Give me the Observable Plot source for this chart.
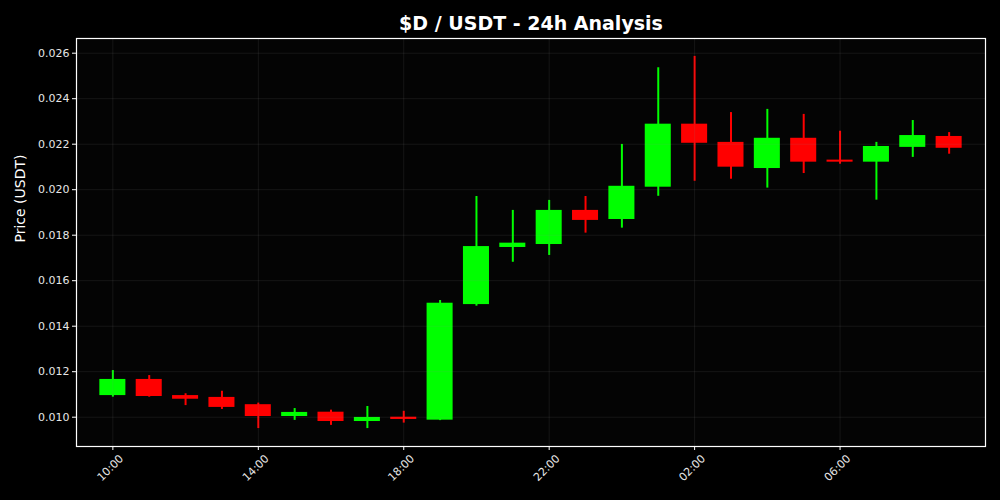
<!DOCTYPE html>
<html>
<head>
<meta charset="utf-8">
<script src="https://cdn.jsdelivr.net/npm/d3@7"></script>
<script src="https://cdn.jsdelivr.net/npm/@observablehq/plot@0.6"></script>
<style>
  html, body { margin: 0; padding: 0; background: #000; }
  #chart { width: 1000px; height: 500px; }
</style>
</head>
<body>
<div id="chart"></div>
<script>
const hours = ["10:00","11:00","12:00","13:00","14:00","15:00","16:00","17:00","18:00","19:00","20:00","21:00",
               "22:00","23:00","00:00","01:00","02:00","03:00","04:00","05:00","06:00","07:00","08:00","09:00"];
const openP  = [0.01095,0.01166,0.01095,0.01087,0.01055,0.01003,0.01022,0.00981,0.01000,0.00987,0.01495,0.01746,
                0.01759,0.01909,0.01869,0.02011,0.02288,0.02208,0.02093,0.02226,0.02130,0.02121,0.02186,0.02234];
const highP  = [0.01205,0.01183,0.01103,0.01114,0.01062,0.01038,0.01031,0.01047,0.01026,0.01513,0.01970,0.01909,
                0.01953,0.01970,0.02199,0.02536,0.02586,0.02339,0.02353,0.02331,0.02257,0.02208,0.02304,0.02251];
const lowP   = [0.01088,0.01088,0.01051,0.01034,0.00950,0.00986,0.00964,0.00950,0.00974,0.00985,0.01488,0.01681,
                0.01711,0.01809,0.01831,0.01971,0.02037,0.02046,0.02007,0.02071,0.02112,0.01954,0.02142,0.02156];
const closeP = [0.01166,0.01091,0.01079,0.01043,0.01003,0.01021,0.00981,0.00999,0.00990,0.01501,0.01750,0.01765,
                0.01909,0.01865,0.02015,0.02288,0.02204,0.02099,0.02226,0.02121,0.02121,0.02190,0.02238,0.02182];
const xTickLabels = ["10:00","14:00","18:00","22:00","02:00","06:00"];
const yTicks = [0.010,0.012,0.014,0.016,0.018,0.020,0.022,0.024,0.026];
const title = "$D / USDT - 24h Analysis";
const yLabel = "Price (USDT)";

const H = 3600e3;
const base = Date.UTC(2024, 0, 1, 10);
const data = hours.map((h, i) => ({
  t: new Date(base + i * H),
  open: openP[i], high: highP[i], low: lowP[i], close: closeP[i],
  up: closeP[i] >= openP[i]
}));
const xTicks = xTickLabels.map((s, i) => new Date(base + i * 4 * H));
const half = 0.358 * H;
const col = d => d.up ? "#00ff00" : "#ff0000";

const chart = Plot.plot({
  width: 1000,
  height: 500,
  marginLeft: 76,
  marginRight: 15,
  marginTop: 38,
  marginBottom: 54,
  style: { background: "#000", color: "#fff", fontFamily: "DejaVu Sans, sans-serif" },
  x: { type: "utc", domain: [new Date(base - H), new Date(base + 24 * H)] },
  y: { domain: [0.008712, 0.026646] },
  marks: [
    Plot.frame({ fill: "#040404" }),
    Plot.ruleX(data, { x: "t", y1: "low", y2: "high", stroke: col, strokeWidth: 2 }),
    Plot.rect(data, {
      x1: d => new Date(+d.t - half), x2: d => new Date(+d.t + half),
      y1: "open", y2: "close", fill: col
    }),
    Plot.gridY(yTicks, { stroke: "#888", strokeOpacity: 0.18, strokeWidth: 0.8 }),
    Plot.gridX(xTicks, { stroke: "#888", strokeOpacity: 0.18, strokeWidth: 0.8 }),
    Plot.frame({ stroke: "#fff", strokeWidth: 1.2 }),
    Plot.axisY(yTicks, { tickFormat: d3.format(".3f"), tickSize: 4, tickPadding: 3, fontSize: 11, fill: "#e6e6e6", stroke: "#fff", label: null }),
    Plot.axisX(xTicks, { tickFormat: () => "", tickSize: 4, stroke: "#fff", label: null }),
    Plot.text(xTicks, {
      x: d => d, text: (d, i) => xTickLabels[i], frameAnchor: "bottom", dy: 24,
      rotate: -45, textAnchor: "middle", fontSize: 11, fill: "#e6e6e6"
    }),
    Plot.text([yLabel], { frameAnchor: "left", dx: -56, rotate: -90, fontSize: 14, fill: "#fff" }),
    Plot.text([title], { frameAnchor: "top", lineAnchor: "middle", dy: -14.5, fontSize: 19, fontWeight: "bold", fill: "#fff" })
  ]
});
document.getElementById("chart").appendChild(chart);
</script>
</body>
</html>
